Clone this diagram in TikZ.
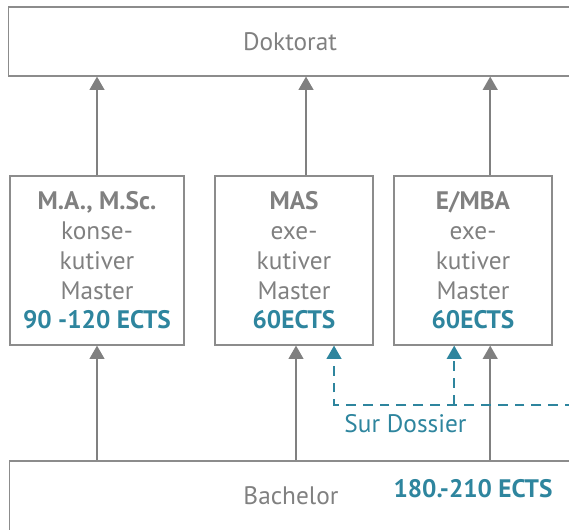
\documentclass[tikz,border=0pt]{standalone}
\usepackage{fontspec}
\setmainfont{PT Sans}
\usetikzlibrary{arrows.meta,positioning}
\definecolor{gr}{RGB}{128,128,128}
\definecolor{lgr}{RGB}{140,140,140}
\definecolor{tl}{RGB}{46,133,158}

\begin{document}
\begin{tikzpicture}[x=0.025cm,y=-0.025cm,
    box/.style={draw=lgr,line width=0.8pt,rectangle,inner sep=0pt,text=gr,font=\fontsize{18}{21.2}\selectfont},
    master/.style={box,minimum width=3.95cm,minimum height=4.225cm,align=center},
    up/.style={draw=gr,line width=1.4pt,-{Triangle[width=10.5pt,length=9.5pt]}},
    sd/.style={draw=tl,line width=1.4pt,dash pattern=on 7pt off 5pt,-{Triangle[width=10.5pt,length=9.5pt]}},
    ects/.style={text=tl,font=\fontsize{18}{21.2}\selectfont\bfseries}]
            \useasboundingbox (0,0) rectangle (569,529);
            \clip (0,0) rectangle (569,529);
            \node[box,minimum width=14.05cm,minimum height=1.725cm] (dok) at (290,41.5) {Doktorat};
            \node[master,minimum width=4.35cm] (ma) at (97,260.5) {\textbf{M.A., M.Sc.}\\konse-\\kutiver\\Master\\\textcolor{tl}{\textbf{90 -120 ECTS}}};
            \node[master] (mas) at (294,260.5) {\textbf{MAS}\\exe-\\kutiver\\Master\\\textcolor{tl}{\textbf{60ECTS}}};
            \node[master] (mba) at (473,260.5) {\textbf{E/MBA}\\exe-\\kutiver\\Master\\\textcolor{tl}{\textbf{60ECTS}}};
            \node[box,minimum width=14.05cm,minimum height=1.75cm] (bach) at (291,496) {Bachelor};
            \node[ects] (bects) at (473,489) {180.-210 ECTS};
            \draw[up] (ma.north) -- (ma.north |- dok.south);
            \draw[up] ([xshift=0.3cm]mas.north) -- ([xshift=0.3cm]mas.north |- dok.south);
            \draw[up] ([xshift=0.43cm]mba.north) -- ([xshift=0.43cm]mba.north |- dok.south);
            \draw[up] (ma.south |- bach.north) -- (ma.south);
            \draw[up] ([xshift=0.05cm]mas.south |- bach.north) -- ([xshift=0.05cm]mas.south);
            \draw[up] ([xshift=0.43cm]mba.south |- bach.north) -- ([xshift=0.43cm]mba.south);
            \coordinate (sdend) at (575,404.5);
            \coordinate (sdmas) at ([xshift=1cm]mas.south);
            \coordinate (sdmba) at ([xshift=-0.47cm]mba.south);
            \draw[sd] (sdend) -- (sdend -| sdmas) -- (sdmas);
            \draw[sd] (sdend -| sdmba) -- (sdmba);
            \node[text=tl,font=\fontsize{18}{21.2}\selectfont] (sur) at (405.5,424) {Sur Dossier};
        \end{tikzpicture}
\end{document}
